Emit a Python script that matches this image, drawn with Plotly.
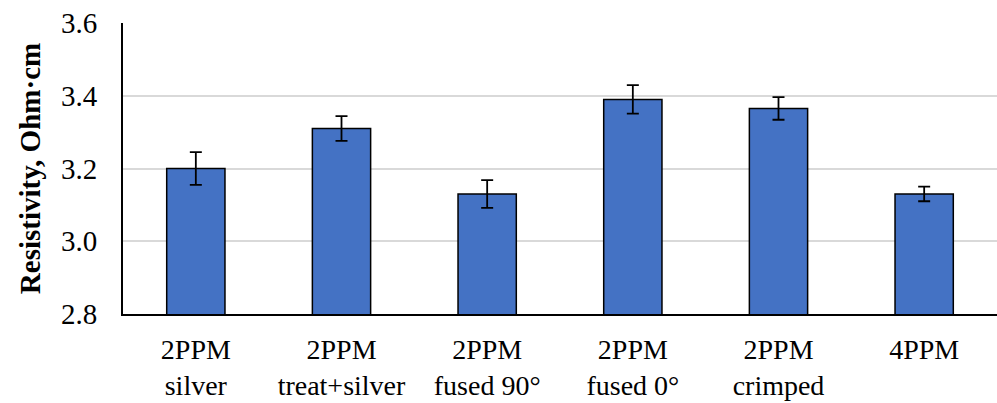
import plotly.graph_objects as go

categories = ["2PPM<br>silver", "2PPM<br>treat+silver", "2PPM<br>fused 90°",
              "2PPM<br>fused 0°", "2PPM<br>crimped", "4PPM"]
resistivity = [3.20, 3.31, 3.13, 3.39, 3.365, 3.13]
resistivity_err = [0.045, 0.034, 0.038, 0.039, 0.031, 0.02]
y_ticks = [2.8, 3.0, 3.2, 3.4, 3.6]
y_range = [2.8, 3.6]

serif = "Liberation Serif"
clear = "rgba(0,0,0,0)"

fig = go.Figure(
    go.Bar(
        x=categories,
        y=resistivity,
        marker=dict(color="#4472C4", line=dict(color="black", width=1.5)),
        error_y=dict(type="data", array=resistivity_err, color="black",
                     thickness=1.8, width=6),
    )
)

fig.update_layout(
    template="none",
    width=997, height=403,
    margin=dict(l=123, r=0, t=23, b=89),
    paper_bgcolor="white", plot_bgcolor="white",
    bargap=0.6,
    showlegend=False,
    font=dict(family=serif, size=29, color="black"),
    xaxis=dict(
        showline=True, linecolor="black", linewidth=2,
        showgrid=False,
        # invisible outside ticks give the labels their gap below the axis
        ticks="outside", ticklen=9, tickcolor=clear,
        tickfont=dict(family=serif, size=28, color="black"),
    ),
    yaxis=dict(
        range=y_range, tickvals=y_ticks,
        ticktext=[f"{v:.1f}" for v in y_ticks],
        showline=True, linecolor="black", linewidth=2,
        showgrid=True, gridcolor="#d9d9d9", gridwidth=2,
        ticks="outside", ticklen=18, tickcolor=clear,
        tickfont=dict(family=serif, size=29, color="black"),
        zeroline=False,
        title=dict(text="<b>Resistivity, Ohm·cm</b>",
                   font=dict(family=serif, size=29, color="black"), standoff=12),
    ),
    # overlay axis that only draws the inward tick marks
    yaxis2=dict(
        overlaying="y", side="left", anchor="x",
        range=y_range, tickvals=y_ticks, showticklabels=False,
        showgrid=False, zeroline=False, showline=False,
        ticks="inside", ticklen=9, tickwidth=2, tickcolor="black",
    ),
)

fig.write_html("out.html")
